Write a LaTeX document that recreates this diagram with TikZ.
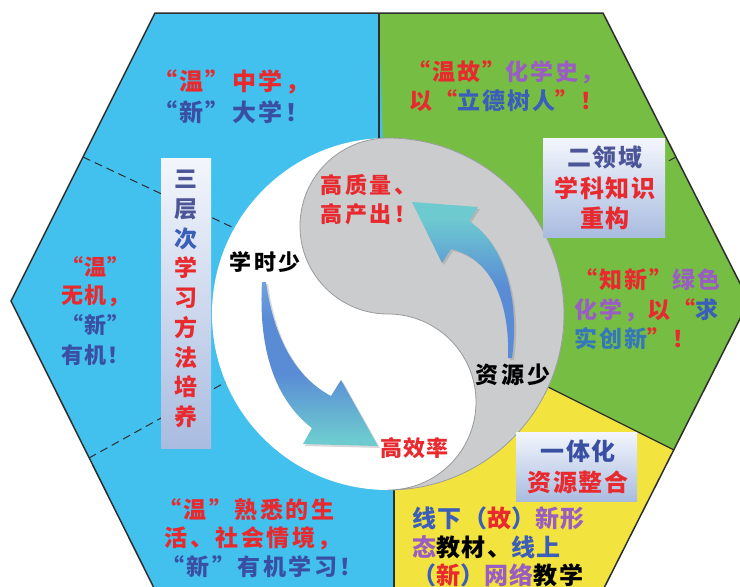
\documentclass[tikz,border=0pt]{standalone}
\usepackage{fontspec}
\setmainfont{Noto Sans CJK SC}
\usetikzlibrary{shadows}
\definecolor{hexblue}{HTML}{42C0EE}
\definecolor{hexgreen}{HTML}{76BE43}
\definecolor{hexyellow}{HTML}{F2E33F}
\definecolor{ygrey}{HTML}{CBCCCE}
\definecolor{ygreyline}{HTML}{9A9B9D}
\definecolor{cred}{HTML}{E8292E}
\definecolor{cblue}{HTML}{3A4FA3}
\definecolor{cpurple}{HTML}{9A5DC2}
\definecolor{cmblue}{HTML}{3A5EBA}
\definecolor{cteal}{HTML}{3577B8}
\definecolor{cslate}{HTML}{4B5597}
\definecolor{boxtop}{HTML}{F3F6FC}
\definecolor{boxbot}{HTML}{A9BCE0}
\definecolor{arrlight}{HTML}{6EA3DE}
\definecolor{arrblue}{HTML}{5A8CD5}
\definecolor{arrteal}{HTML}{6DCBD0}
\definecolor{linecol}{HTML}{2E2E2E}
\pgfdeclareverticalshading{rarrowshade}{100bp}{color(0bp)=(arrblue); color(25bp)=(arrblue); color(48bp)=(arrblue); color(70bp)=(arrteal); color(100bp)=(arrteal)}
\pgfdeclareverticalshading{larrowshade}{100bp}{color(0bp)=(arrteal); color(27bp)=(arrteal); color(47bp)=(arrblue); color(64bp)=(arrblue); color(75bp)=(arrlight); color(100bp)=(arrlight)}
\newcommand\myfnt[3]{\bfseries\fontsize{#1}{#2}\selectfont\addfontfeatures{LetterSpace=#3}}
\begin{document}
\begin{tikzpicture}[x=1pt,y=-1pt,
  txt/.style={inner sep=0pt, anchor=west},
  ctxt/.style={inner sep=0pt, anchor=center, align=center},
  gbox/.style={inner sep=0pt, draw=none, top color=boxtop, bottom color=boxbot},
  divline/.style={draw=linecol, line width=1.2pt},
  dashline/.style={draw=linecol, line width=1pt, dash pattern=on 8pt off 5pt},
  bigarrow/.style={drop shadow={opacity=0.3, shadow xshift=2pt, shadow yshift=-2pt}}]
\useasboundingbox (0,0) rectangle (740,587);
\clip (0,0) rectangle (740,587);
\fill[white] (0,0) rectangle (740,587);
% hexagon
\coordinate (h1) at (155,13);
\coordinate (h2) at (603,13);
\coordinate (h3) at (749,301);
\coordinate (h4) at (603,590);
\coordinate (h5) at (155,590);
\coordinate (h6) at (11,301);
\coordinate (O) at (388,314);
\coordinate (vt) at (379,13);
\coordinate (vb) at (379,138);
\coordinate (gyA) at (548,387);
\coordinate (gyB) at (674,450);
\coordinate (ybA) at (394,490);
\coordinate (ybB) at (394,590);
\fill[hexblue] (h1) -- (h2) -- (h3) -- (h4) -- (h5) -- (h6) -- cycle;
\fill[hexgreen] (vt) -- (h2) -- (h3) -- (gyB) -- (gyA) -- (O) -- cycle;
\fill[hexyellow] (gyA) -- (gyB) -- (h4) -- (ybB) -- (ybA) -- (O) -- cycle;
% dashed lines
\coordinate (d1a) at (83,157);
\coordinate (d1b) at (234,228);
\coordinate (d2a) at (89,458);
\coordinate (d2b) at (226,382);
\coordinate (d3a) at (676,157);
\coordinate (d3b) at (560,219);
\draw[dashline] (d1a) -- (d1b);
\draw[dashline] (d2a) -- (d2b);
\draw[dashline] (d3a) -- (d3b);
% solid dividers
\draw[divline] (vt) -- (vb);
\draw[divline] (gyA) -- (gyB);
\draw[divline] (ybA) -- (ybB);
% yin-yang
\fill[white] (O) circle[radius=176];
\path[fill=ygrey, draw=ygreyline, line width=0.8pt]
  (388,138) arc[start angle=-90, end angle=-270, radius=88]
  arc[start angle=-90, end angle=90, radius=88]
  arc[start angle=90, end angle=-90, radius=176] -- cycle;
% hexagon outline
\draw[linecol, line width=1.5pt, line join=miter] (h1) -- (h2) -- (h3) -- (h4) -- (h5) -- (h6) -- cycle;
% boxes
\node[gbox, minimum width=50pt, minimum height=290pt] (bx1) at (186,303) {};
\node[gbox, minimum width=122pt, minimum height=99pt] (bx2) at (604,187.5) {};
\node[gbox, minimum width=121pt, minimum height=69pt] (bx3) at (576.5,466.5) {};
\node[ctxt, font=\myfnt{23}{29.75}{0}] (vtext) at (186,299)
  {\textcolor{cslate}{三}\\\textcolor{cslate}{层}\\\textcolor{cmblue}{次}\\\textcolor{cred}{学}\\\textcolor{cred}{习}\\\textcolor{cred}{方}\\\textcolor{cred}{法}\\\textcolor{cred}{培}\\\textcolor{cred}{养}};
\node[ctxt, font=\myfnt{24}{30.5}{8}] (t2) at (605,188)
  {\textcolor{cslate}{二领域}\\\textcolor{cred}{学科知识}\\\textcolor{cred}{重构}};
\node[ctxt, font=\myfnt{24}{30.5}{6}] (t3) at (578,467)
  {\textcolor{cblue}{一体化}\\\textcolor{cred}{资源整合}};
% arrows
\path[bigarrow, shading=larrowshade]
  (262,282) .. controls (258,355) and (278,402) .. (312,428)
  -- (303,444) -- (378,446) -- (341,380) -- (331,396)
  .. controls (297,378) and (274,340) .. (266,282) -- cycle;
\path[bigarrow, shading=rarrowshade]
  (512,358) .. controls (520,300) and (505,245) .. (469,221)
  -- (478,207) -- (412,202) -- (442,263) -- (451,249)
  .. controls (490,258) and (510,300) .. (508,358) -- cycle;
% texts: upper left
\node[txt, font=\myfnt{24}{24}{10}] (tA1) at (153,82) {\textcolor{cred}{“温”中学，}};
\node[txt, font=\myfnt{24}{24}{10}] (tA2) at (153,112) {\textcolor{cblue}{“新”大学！}};
% upper green
\node[txt, font=\myfnt{23}{23}{9}] (tB1) at (407,72) {\textcolor{cred}{“温故”}\textcolor{cpurple}{化学史，}};
\node[txt, font=\myfnt{23}{23}{9}] (tB2) at (409,101) {\textcolor{cred}{以“}\textcolor{cmblue}{立德树人}\textcolor{cred}{”！}};
% lower green
\node[txt, font=\myfnt{23}{23}{9}] (tC1) at (574,280) {\textcolor{cred}{“知新”}\textcolor{cpurple}{绿色}};
\node[txt, font=\myfnt{23}{23}{9}] (tC2) at (574,310) {\textcolor{cpurple}{化学，}\textcolor{cred}{以“}\textcolor{cmblue}{求}};
\node[txt, font=\myfnt{23}{23}{9}] (tC3) at (574,339) {\textcolor{cteal}{实创新}\textcolor{cred}{”！}};
% left middle
\node[txt, font=\myfnt{22}{22}{4}] (tD1) at (61.5,267) {\textcolor{cred}{“温”}};
\node[txt, font=\myfnt{22}{22}{4}] (tD2) at (61.5,296) {\textcolor{cred}{无机，}};
\node[txt, font=\myfnt{22}{22}{4}] (tD3) at (61.5,325) {\textcolor{cblue}{“新”}};
\node[txt, font=\myfnt{22}{22}{4}] (tD4) at (61.5,355) {\textcolor{cblue}{有机！}};
% bottom left
\node[txt, font=\myfnt{23}{23}{11}] (tE1) at (158,510) {\textcolor{cred}{“温”熟悉的生}};
\node[txt, font=\myfnt{23}{23}{11}] (tE2) at (164.5,538) {\textcolor{cred}{活、社会情境，}};
\node[txt, font=\myfnt{23}{23}{11}] (tE3) at (161,567) {\textcolor{cblue}{“新”有机学习！}};
% yellow
\node[txt, font=\myfnt{24}{24}{6}] (tH1) at (412,518) {\textcolor{cmblue}{线下（}\textcolor{cred}{故}\textcolor{cmblue}{）}\textcolor{cpurple}{新形}};
\node[txt, font=\myfnt{24}{24}{6}] (tH2) at (412,547) {\textcolor{cpurple}{态}\textcolor{black}{教材、}\textcolor{cmblue}{线上}};
\node[txt, font=\myfnt{24}{24}{6}] (tH3) at (412,575) {\textcolor{cmblue}{（}\textcolor{cred}{新}\textcolor{cmblue}{）}\textcolor{cpurple}{网络}\textcolor{black}{教学}};
% inner circle texts
\node[txt, font=\myfnt{22}{22}{13}] (tI1) at (320,185) {\textcolor{cred}{高质量、}};
\node[txt, font=\myfnt{22}{22}{13}] (tI2) at (320,214) {\textcolor{cred}{高产出！}};
\node[txt, font=\myfnt{22}{22}{13}] (tJ) at (229,262) {\textcolor{black}{学时少}};
\node[txt, font=\myfnt{22}{22}{5}] (tK) at (380,448) {\textcolor{cred}{高效率}};
\node[txt, font=\myfnt{23}{23}{13}] (tL) at (475.5,375) {\textcolor{black}{资源少}};
\end{tikzpicture}
\end{document}
